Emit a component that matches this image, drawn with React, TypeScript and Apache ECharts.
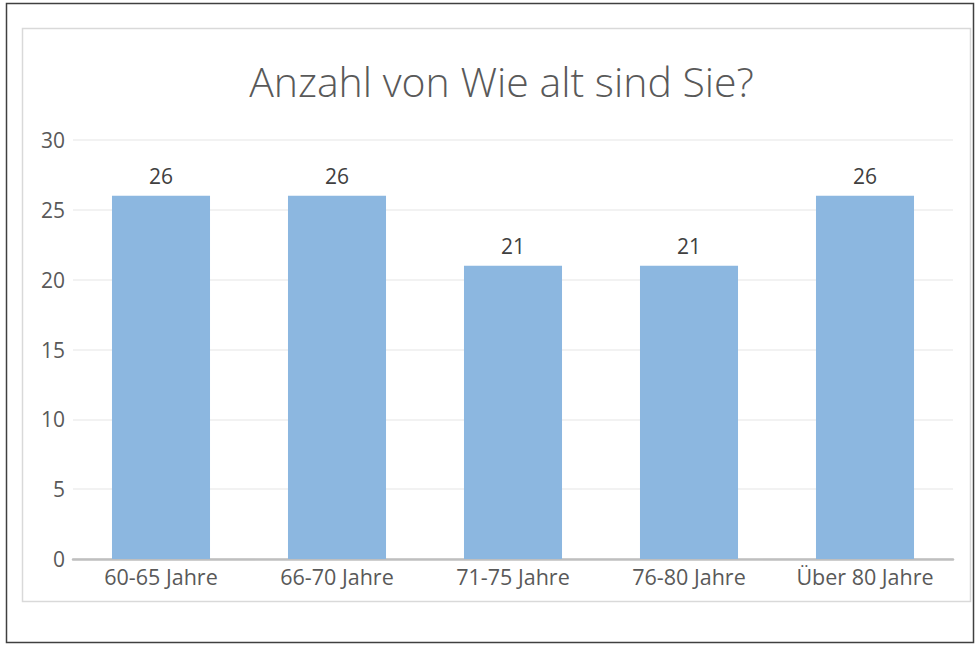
import React, { useEffect, useRef } from "react";
import * as echarts from "echarts";

const categories = ["60-65 Jahre", "66-70 Jahre", "71-75 Jahre", "76-80 Jahre", "Über 80 Jahre"];
const values = [26, 26, 21, 21, 26];
const titleText = "Anzahl von Wie alt sind Sie?";

export default function App() {
  const ref = useRef<HTMLDivElement>(null);
  useEffect(() => {
    if (!ref.current) return;
    const chart = echarts.init(ref.current, null, { renderer: "svg" });
    chart.setOption({
      animation: false,
      backgroundColor: "#ffffff",
      title: {
        text: titleText,
        left: 496.5,
        textAlign: "center",
        top: 55,
        textStyle: { fontFamily: "Open Sans", fontWeight: 300, fontSize: 41, lineHeight: 41, color: "#595959" },
      },
      graphic: [
        { type: "rect", shape: { x: 6.5, y: 3.5, width: 967, height: 639 }, style: { fill: "none", stroke: "#404040", lineWidth: 1.5 }, z: -1 },
        { type: "rect", shape: { x: 22.5, y: 28.5, width: 948, height: 573 }, style: { fill: "none", stroke: "#D9D9D9", lineWidth: 1.5 }, z: -1 },
      ],
      grid: { left: 73, right: 22, top: 140, bottom: 86, containLabel: false },
      xAxis: {
        type: "category",
        data: categories,
        axisLine: { lineStyle: { color: "#BFBFBF", width: 2.5 } },
        axisTick: { show: false },
        axisLabel: { interval: 0, hideOverlap: false, fontFamily: "Open Sans", fontSize: 21.5, lineHeight: 21, color: "#595959", margin: 7 },
      },
      yAxis: {
        type: "value",
        min: 0,
        max: 30,
        interval: 5,
        axisLine: { show: false },
        axisTick: { show: false },
        splitLine: { lineStyle: { color: "#EEEEEE", width: 1.5 } },
        axisLabel: { fontFamily: "Open Sans", fontSize: 21, color: "#595959", margin: 8 },
      },
      series: [
        {
          type: "bar",
          data: values,
          barWidth: "55.7%",
          itemStyle: { color: "#8CB7E0" },
          label: {
            show: true,
            position: "top",
            distance: 9,
            fontFamily: "Open Sans",
            fontSize: 21,
            lineHeight: 21,
            color: "#404040",
          },
        },
      ],
    });
    return () => chart.dispose();
  }, []);
  return <div ref={ref} style={{ position: "fixed", left: 0, top: 0, width: 975, height: 645 }} />;
}
